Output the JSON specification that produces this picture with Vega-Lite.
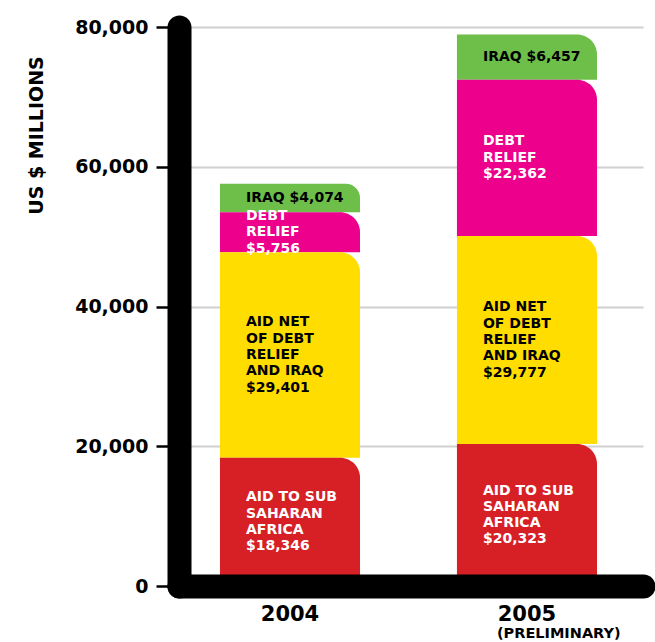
{
  "$schema": "https://vega.github.io/schema/vega-lite/v6.json",
  "width": 464,
  "height": 559,
  "autosize": {"type": "none"},
  "padding": {"left": 179, "top": 27, "right": 12, "bottom": 56},
  "config": {"view": {"stroke": null}, "font": "DejaVu Sans"},
  "datasets": {
    "aid": [
      {"year": "2004", "cat": "Iraq", "rank": 4, "value": 4074, "label": "IRAQ $4,074"},
      {"year": "2004", "cat": "Debt relief", "rank": 3, "value": 5756, "label": "DEBT\nRELIEF\n$5,756"},
      {"year": "2004", "cat": "Aid net of debt relief and Iraq", "rank": 2, "value": 29401, "label": "AID NET\nOF DEBT\nRELIEF\nAND IRAQ\n$29,401"},
      {"year": "2004", "cat": "Aid to Sub-Saharan Africa", "rank": 1, "value": 18346, "label": "AID TO SUB\nSAHARAN\nAFRICA\n$18,346"},
      {"year": "2005", "cat": "Iraq", "rank": 4, "value": 6457, "label": "IRAQ $6,457"},
      {"year": "2005", "cat": "Debt relief", "rank": 3, "value": 22362, "label": "DEBT\nRELIEF\n$22,362"},
      {"year": "2005", "cat": "Aid net of debt relief and Iraq", "rank": 2, "value": 29777, "label": "AID NET\nOF DEBT\nRELIEF\nAND IRAQ\n$29,777"},
      {"year": "2005", "cat": "Aid to Sub-Saharan Africa", "rank": 1, "value": 20323, "label": "AID TO SUB\nSAHARAN\nAFRICA\n$20,323"}
    ],
    "notes": [
      {"year": "2005", "note": "(PRELIMINARY)"}
    ]
  },
  "layer": [
    {
      "data": {"name": "aid"},
      "transform": [
        {"stack": "value", "groupby": ["year"], "sort": [{"field": "rank", "order": "ascending"}], "as": ["y0", "y1"]}
      ],
      "mark": {"type": "bar", "cornerRadiusTopRight": 20},
      "encoding": {
        "x": {
          "field": "year",
          "type": "nominal",
          "scale": {"paddingInner": 0.409, "paddingOuter": 0.1835, "align": 0.471},
          "axis": {
            "title": null,
            "labelAngle": 0,
            "labelFontSize": 21,
            "labelFontWeight": "bold",
            "labelColor": "black",
            "labelPadding": 17,
            "ticks": false,
            "grid": false,
            "domainColor": "black",
            "domainWidth": 24,
            "domainCap": "round",
            "zindex": 1
          }
        },
        "y": {
          "field": "y1",
          "type": "quantitative",
          "title": "US $ MILLIONS",
          "scale": {"domain": [0, 80000], "nice": false},
          "axis": {
            "values": [0, 20000, 40000, 60000, 80000],
            "format": ",d",
            "grid": true,
            "gridColor": "#d0d0d0",
            "gridWidth": 2,
            "domainColor": "black",
            "domainWidth": 24,
            "domainCap": "round",
            "tickColor": "black",
            "tickSize": 23,
            "tickWidth": 2.5,
            "labelPadding": 8,
            "labelFontSize": 19,
            "labelFontWeight": "bold",
            "labelColor": "black",
            "titleFontSize": 19,
            "titleFontWeight": "bold",
            "titleColor": "black",
            "titleAngle": -90,
            "titleX": -143,
            "titleY": 108,
            "titleAlign": "center",
            "titleBaseline": "middle",
            "zindex": 0
          }
        },
        "y2": {"field": "y0"},
        "color": {
          "field": "cat",
          "type": "nominal",
          "scale": {
            "domain": ["Aid to Sub-Saharan Africa", "Aid net of debt relief and Iraq", "Debt relief", "Iraq"],
            "range": ["#d71f26", "#ffdd00", "#ec008c", "#6ebe4a"]
          },
          "legend": null
        }
      }
    },
    {
      "data": {"name": "aid"},
      "transform": [
        {"stack": "value", "groupby": ["year"], "sort": [{"field": "rank", "order": "ascending"}], "as": ["y0", "y1"]},
        {"fold": ["y0", "y1"], "as": ["edge", "pos"]},
        {"aggregate": [{"op": "mean", "field": "pos", "as": "mid"}], "groupby": ["year", "cat", "label"]}
      ],
      "mark": {
        "type": "text",
        "align": "left",
        "baseline": "middle",
        "xOffset": -44,
        "fontSize": 14,
        "fontWeight": "bold",
        "lineBreak": "\n",
        "lineHeight": 16.3,
        "dy": {"expr": "-(length(split(datum.label, '\\n')) - 1) * 8.15"}
      },
      "encoding": {
        "x": {"field": "year", "type": "nominal"},
        "y": {"field": "mid", "type": "quantitative", "title": "US $ MILLIONS"},
        "text": {"field": "label"},
        "color": {
          "condition": {"test": "datum.cat === 'Debt relief' || datum.cat === 'Aid to Sub-Saharan Africa'", "value": "white"},
          "value": "black"
        }
      }
    },
    {
      "data": {"name": "notes"},
      "mark": {
        "type": "text",
        "align": "left",
        "baseline": "middle",
        "xOffset": -30,
        "yOffset": 48,
        "fontSize": 14.5,
        "fontWeight": "bold",
        "color": "black"
      },
      "encoding": {
        "x": {"field": "year", "type": "nominal"},
        "y": {"datum": 0},
        "text": {"field": "note"}
      }
    }
  ]
}
